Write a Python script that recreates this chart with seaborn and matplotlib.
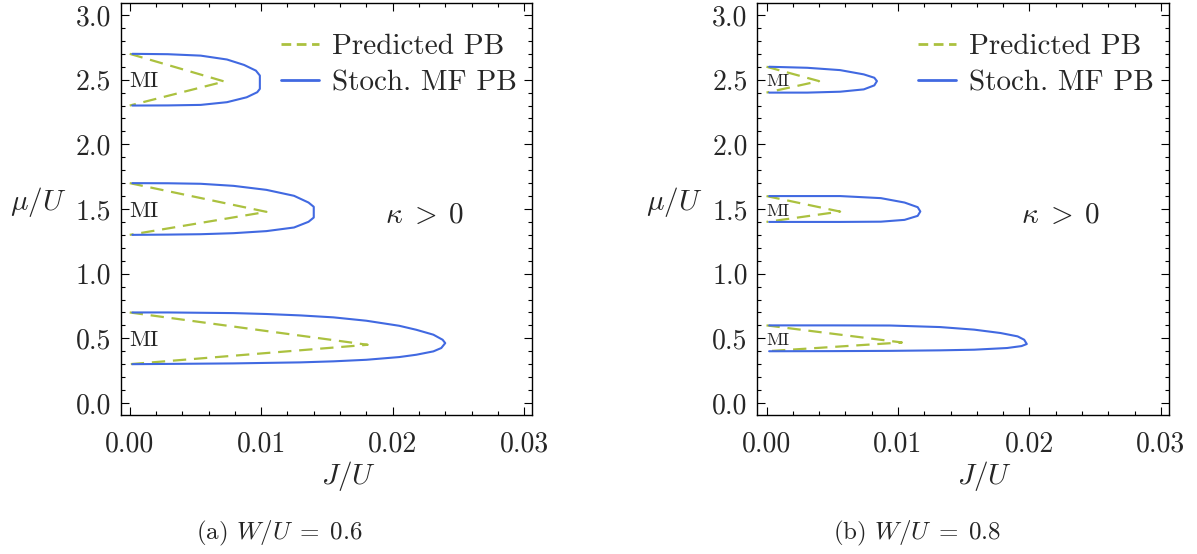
import numpy as np
import matplotlib
matplotlib.use("Agg")
import matplotlib.pyplot as plt
from matplotlib.ticker import MultipleLocator, FormatStrFormatter
from matplotlib.lines import Line2D
import seaborn as sns

# ---------------- data ----------------
# Panel (a): W/U = 0.6 -- stochastic mean-field phase boundaries (J/U, mu/U)
a_lobe1_J = [0.0002, 0.0029, 0.0079, 0.0104, 0.0130, 0.0155, 0.0180, 0.0205, 0.0218, 0.0231,
             0.0238, 0.0240, 0.0237, 0.0231, 0.0218, 0.0205, 0.0180, 0.0155, 0.0130, 0.0079,
             0.0029, 0.0002]
a_lobe1_mu = [0.700, 0.700, 0.695, 0.688, 0.677, 0.662, 0.636, 0.597, 0.566, 0.528,
              0.489, 0.463, 0.425, 0.399, 0.373, 0.355, 0.334, 0.322, 0.314, 0.306,
              0.302, 0.300]
a_lobe2_J = [0.0002, 0.0029, 0.0054, 0.0079, 0.0104, 0.0125, 0.0136, 0.0140, 0.0140, 0.0136,
             0.0125, 0.0104, 0.0079, 0.0054, 0.0029, 0.0002]
a_lobe2_mu = [1.700, 1.699, 1.695, 1.679, 1.648, 1.602, 1.550, 1.517, 1.434, 1.401,
              1.357, 1.329, 1.313, 1.305, 1.302, 1.300]
a_lobe3_J = [0.0002, 0.0029, 0.0054, 0.0074, 0.0087, 0.0096, 0.0099, 0.0099, 0.0097, 0.0089,
             0.0074, 0.0054, 0.0029, 0.0002]
a_lobe3_mu = [2.700, 2.697, 2.686, 2.656, 2.614, 2.570, 2.532, 2.429, 2.403, 2.364,
              2.326, 2.305, 2.301, 2.300]
# predicted boundaries: upper edge, tip, lower edge
a_pred_J = [[0.0, 0.0181, 0.0], [0.0, 0.0104, 0.0], [0.0, 0.0072, 0.0]]
a_pred_mu = [[0.70, 0.450, 0.30], [1.70, 1.478, 1.30], [2.70, 2.486, 2.30]]

# Panel (b): W/U = 0.8
b_lobe1_J = [0.0002, 0.0050, 0.0094, 0.0132, 0.0158, 0.0178, 0.0191, 0.0196, 0.0198, 0.0194,
             0.0183, 0.0158, 0.0132, 0.0094, 0.0050, 0.0002]
b_lobe1_mu = [0.600, 0.600, 0.599, 0.587, 0.567, 0.541, 0.515, 0.489, 0.456, 0.440,
              0.425, 0.412, 0.407, 0.403, 0.401, 0.400]
b_lobe2_J = [0.0002, 0.0056, 0.0087, 0.0105, 0.0115, 0.0117, 0.0115, 0.0105, 0.0087, 0.0056, 0.0002]
b_lobe2_mu = [1.600, 1.600, 1.584, 1.550, 1.514, 1.481, 1.447, 1.416, 1.402, 1.400, 1.400]
b_lobe3_J = [0.0002, 0.0031, 0.0056, 0.0074, 0.0082, 0.0084, 0.0082, 0.0074, 0.0056, 0.0031, 0.0002]
b_lobe3_mu = [2.600, 2.592, 2.574, 2.541, 2.515, 2.489, 2.456, 2.425, 2.407, 2.400, 2.400]
b_pred_J = [[0.0, 0.0103, 0.0], [0.0, 0.0056, 0.0], [0.0, 0.0040, 0.0]]
b_pred_mu = [[0.60, 0.468, 0.40], [1.60, 1.480, 1.40], [2.60, 2.489, 2.40]]

lobe_centers = [0.5, 1.5, 2.5]
captions = [r"(a) $W/U\;=\;0.6$", r"(b) $W/U\;=\;0.8$"]
legend_labels = ["Predicted PB", "Stoch. MF PB"]

# ---------------- style ----------------
sns.set_theme(style="ticks")
plt.rcParams.update({
    "font.family": "cmr10",
    "mathtext.fontset": "cm",
    "axes.formatter.use_mathtext": True,
    "axes.edgecolor": "black",
    "axes.linewidth": 1.0,
    "axes.unicode_minus": False,
})

GREEN = "#abc13f"
BLUE = "#4169e1"
FS = 20

fig = plt.figure(figsize=(11.97, 5.54), dpi=100)
W, H = 1197, 554
ax_a = fig.add_axes([120.5 / W, 139 / H, 411.5 / W, 412 / H])
ax_b = fig.add_axes([757.3 / W, 139 / H, 411.5 / W, 412 / H])

panels = [
    (ax_a, [(a_lobe1_J, a_lobe1_mu), (a_lobe2_J, a_lobe2_mu), (a_lobe3_J, a_lobe3_mu)],
     a_pred_J, a_pred_mu, 16.5),
    (ax_b, [(b_lobe1_J, b_lobe1_mu), (b_lobe2_J, b_lobe2_mu), (b_lobe3_J, b_lobe3_mu)],
     b_pred_J, b_pred_mu, 13),
]

for ax, stoch, pJ, pmu, mi_fs in panels:
    for J, mu in zip(pJ, pmu):
        sns.lineplot(x=J, y=mu, sort=False, estimator=None, color=GREEN, lw=1.6,
                     linestyle=(0, (6, 3.5)), ax=ax)
    for J, mu in stoch:
        sns.lineplot(x=J, y=mu, sort=False, estimator=None, color=BLUE, lw=1.5, ax=ax)
    for c in lobe_centers:
        ax.text(0.0, c - 0.015, "MI", fontsize=mi_fs, ha="left", va="center")
    ax.text(0.0224, 1.45, r"$\kappa\;>\;0$", fontsize=FS + 1, ha="center", va="center")

    ax.set_xlim(-0.0007, 0.0306)
    ax.set_ylim(-0.093, 3.093)
    ax.xaxis.set_major_locator(MultipleLocator(0.01))
    ax.xaxis.set_minor_locator(MultipleLocator(0.002))
    ax.yaxis.set_major_locator(MultipleLocator(0.5))
    ax.yaxis.set_minor_locator(MultipleLocator(0.1))
    ax.xaxis.set_major_formatter(FormatStrFormatter("%.2f"))
    ax.yaxis.set_major_formatter(FormatStrFormatter("%.1f"))
    ax.tick_params(which="both", direction="in", top=True, right=True, width=0.8,
                   color="black", labelsize=FS)
    ax.tick_params(which="major", length=5.5)
    ax.tick_params(which="minor", length=3)
    ax.tick_params(axis="x", pad=12)
    ax.tick_params(axis="y", pad=7)
    for s in ax.spines.values():
        s.set_visible(True)
        s.set_color("black")
        s.set_linewidth(1.0)

    ax.set_xlabel("")
    ax.set_ylabel("")
    ax.text(0.553, -0.148, r"$J/U$", fontsize=FS + 1, ha="center", va="center",
            transform=ax.transAxes)
    ax.text(-0.201, 0.517, r"$\mu/U$", fontsize=FS + 1, ha="center", va="center",
            transform=ax.transAxes)

    handles = [Line2D([], [], color=GREEN, lw=2, linestyle=(0, (3.5, 2))),
               Line2D([], [], color=BLUE, lw=2)]
    ax.legend(handles, legend_labels, loc="upper left", bbox_to_anchor=(0.39, 0.925),
              frameon=False, fontsize=FS + 1, handlelength=1.3, handletextpad=0.45,
              labelspacing=0.33, borderpad=0, borderaxespad=0)

fig.text(279 / W, (554 - 533) / H, captions[0], fontsize=18, ha="center", va="center")
fig.text(917 / W, (554 - 533) / H, captions[1], fontsize=18, ha="center", va="center")

fig.savefig("out.png", dpi=100, facecolor="white")
